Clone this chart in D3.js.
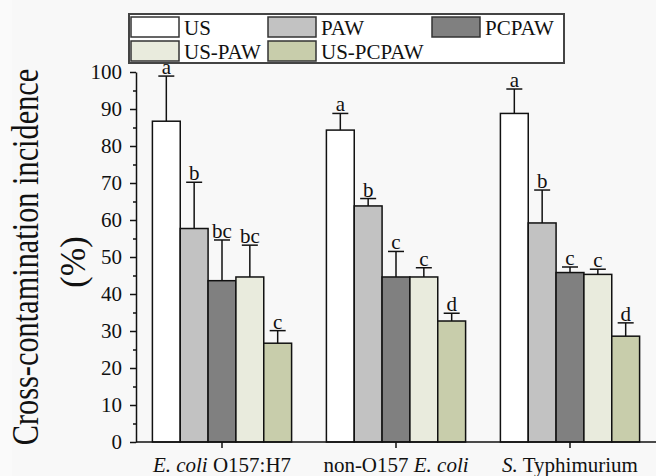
<!DOCTYPE html>
<html>
<head>
<meta charset="utf-8">
<script src="https://cdn.jsdelivr.net/npm/d3@7"></script>
<style>
  body { margin: 0; background: #fafafa; }
  svg text { font-family: "Times New Roman", Times, "Liberation Serif", Tinos, serif; fill: #111; }
</style>
</head>
<body>
<svg id="chart" width="656" height="476"></svg>
<script>
// Data
var categories = ["ecoli", "nonO157", "styph"];
var categoryLabels = [
    [["E. coli", true], [" O157:H7", false]],
    [["non-O157 ", false], ["E. coli", true]],
    [["S.", true], [" Typhimurium", false]]
];
var series = ["US", "PAW", "PCPAW", "US-PAW", "US-PCPAW"];
var seriesColors = ["#ffffff", "#c2c2c2", "#808080", "#e9ebdd", "#c8cdab"];

// mean values per category (rows) and series (columns)
var means = [
    [86.7, 57.7, 43.6, 44.6, 26.7],
    [84.3, 63.8, 44.6, 44.6, 32.7],
    [88.8, 59.2, 45.8, 45.3, 28.6]
];
// upper end of the error bar
var errTops = [
    [98.9, 70.2, 54.6, 53.2, 30.1],
    [88.8, 65.8, 51.5, 47.1, 34.8],
    [95.4, 68.1, 47.3, 46.7, 32.2]
];
var letters = [
    ["a", "b", "bc", "bc", "c"],
    ["a", "b", "c", "c", "d"],
    ["a", "b", "c", "c", "d"]
];
var yTicks = [0, 10, 20, 30, 40, 50, 60, 70, 80, 90, 100];
var yMinorTicks = [5, 15, 25, 35, 45, 55, 65, 75, 85, 95];

var svg = d3.select("#chart");

svg.append("rect")
    .attr("x", 12)
    .attr("width", 644)
    .attr("height", 476)
    .attr("fill", "#f8f8f8");

// Scales
var x0 = d3.scaleBand()
    .domain(categories)
    .range([135, 657])
    .paddingInner(0.2)
    .paddingOuter(0.1);

var x1 = d3.scaleBand()
    .domain(series)
    .range([0, x0.bandwidth()]);

var y = d3.scaleLinear()
    .domain([0, 100])
    .range([442, 72]);

var color = d3.scaleOrdinal()
    .domain(series)
    .range(seriesColors);

// Bars
var rows = categories.map(function(c, i) {
    return series.map(function(s, j) {
        return { cat: c, key: s, value: means[i][j], top: errTops[i][j], letter: letters[i][j] };
    });
});

var group = svg.append("g")
    .selectAll("g")
    .data(rows)
    .enter()
    .append("g")
    .attr("transform", function(d, i) { return "translate(" + x0(categories[i]) + ",0)"; });

// error bars (upper only), drawn first so the bar covers the stem
group.selectAll("line.err")
    .data(function(d) { return d; })
    .enter()
    .append("line")
    .attr("class", "err")
    .attr("x1", function(d) { return x1(d.key) + x1.bandwidth() / 2; })
    .attr("x2", function(d) { return x1(d.key) + x1.bandwidth() / 2; })
    .attr("y1", function(d) { return y(d.value); })
    .attr("y2", function(d) { return y(d.top); })
    .attr("stroke", "#111")
    .attr("stroke-width", 1.5);

group.selectAll("line.cap")
    .data(function(d) { return d; })
    .enter()
    .append("line")
    .attr("class", "cap")
    .attr("x1", function(d) { return x1(d.key) + x1.bandwidth() / 2 - 8; })
    .attr("x2", function(d) { return x1(d.key) + x1.bandwidth() / 2 + 8; })
    .attr("y1", function(d) { return y(d.top); })
    .attr("y2", function(d) { return y(d.top); })
    .attr("stroke", "#111")
    .attr("stroke-width", 1.5);

group.selectAll("rect")
    .data(function(d) { return d; })
    .enter()
    .append("rect")
    .attr("x", function(d) { return x1(d.key); })
    .attr("y", function(d) { return y(d.value); })
    .attr("width", x1.bandwidth())
    .attr("height", function(d) { return y(0) - y(d.value); })
    .attr("fill", function(d) { return color(d.key); })
    .attr("stroke", "#111")
    .attr("stroke-width", 1.5);

group.selectAll("text.sig")
    .data(function(d) { return d; })
    .enter()
    .append("text")
    .attr("class", "sig")
    .attr("x", function(d) { return x1(d.key) + x1.bandwidth() / 2; })
    .attr("y", function(d) { return y(d.top) - 2; })
    .attr("text-anchor", "middle")
    .style("font-size", "21px")
    .text(function(d) { return d.letter; });

// Y axis
var yAxis = svg.append("g")
    .attr("transform", "translate(136,0)")
    .call(d3.axisLeft(y).tickValues(yTicks).tickSize(6).tickSizeOuter(0).tickPadding(8));

svg.append("g")
    .attr("transform", "translate(136,0)")
    .call(d3.axisLeft(y).tickValues(yMinorTicks).tickSize(3).tickFormat(""))
    .call(function(g) { g.select(".domain").remove(); });

yAxis.selectAll("text").style("font-size", "21px").attr("fill", "#111");
svg.selectAll(".tick line, .domain").attr("stroke", "#111").attr("stroke-width", 1.5);

// X axis
var xAxis = svg.append("g")
    .attr("transform", "translate(0," + y(0) + ")")
    .call(d3.axisBottom(x0).tickSize(6).tickSizeOuter(0).tickPadding(9).tickFormat(""));

xAxis.select(".domain").remove();
xAxis.selectAll(".tick line").attr("stroke", "#111").attr("stroke-width", 1.5);

xAxis.selectAll(".tick text")
    .attr("dy", "0.71em")
    .style("font-size", "21px")
    .attr("fill", "#111")
    .each(function(d, i) {
        var t = d3.select(this);
        categoryLabels[i].forEach(function(p) {
            t.append("tspan")
                .style("font-style", p[1] ? "italic" : "normal")
                .text(p[0]);
        });
    });

svg.append("line")
    .attr("x1", 136)
    .attr("x2", 656)
    .attr("y1", y(0))
    .attr("y2", y(0))
    .attr("stroke", "#111")
    .attr("stroke-width", 1.5);

// Y axis title (glyphs in the original are tall and condensed)
svg.append("text")
    .attr("transform", "translate(38,257) rotate(-90) scale(0.82,1)")
    .attr("text-anchor", "middle")
    .style("font-size", "37px")
    .text("Cross-contamination incidence");

svg.append("text")
    .attr("transform", "translate(85,262) rotate(-90) scale(0.95,1)")
    .attr("text-anchor", "middle")
    .style("font-size", "36px")
    .text("(%)");

// Legend
var legendPos = [[131, 17], [268, 17], [432, 17], [131, 41], [268, 41]];

var legend = svg.append("g").attr("id", "legend");

legend.append("rect")
    .attr("x", 129)
    .attr("y", 14)
    .attr("width", 435)
    .attr("height", 49)
    .attr("fill", "#fff")
    .attr("stroke", "#444")
    .attr("stroke-width", 2);

var legenditem = legend.selectAll(".legenditem")
    .data(series)
    .enter()
    .append("g")
    .attr("class", "legenditem")
    .attr("transform", function(d, i) { return "translate(" + legendPos[i][0] + "," + legendPos[i][1] + ")"; });

legenditem.append("rect")
    .attr("width", 48)
    .attr("height", 20)
    .attr("fill", function(d) { return color(d); })
    .attr("stroke", "#333")
    .attr("stroke-width", 1.5);

legenditem.append("text")
    .attr("x", 53)
    .attr("y", 18)
    .style("font-size", "21px")
    .text(function(d) { return d; });
</script>
</body>
</html>
